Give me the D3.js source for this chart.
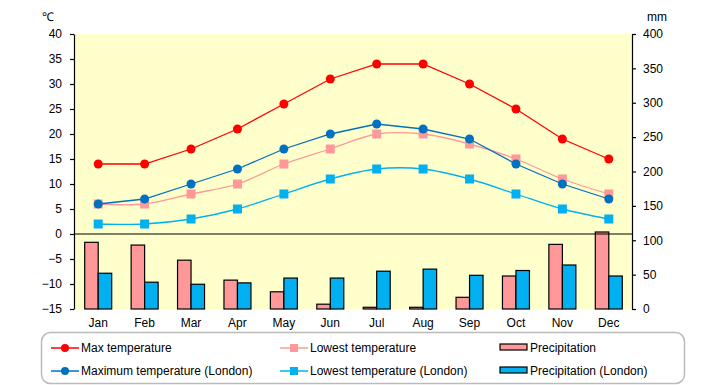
<!DOCTYPE html>
<html>
<head>
<meta charset="utf-8">
<script src="https://cdn.jsdelivr.net/npm/d3@7"></script>
<style>
  body { margin: 0; background: #fff; }
  text { font-family: "Liberation Sans", Arial, sans-serif; font-size: 12px; fill: #000; }
</style>
</head>
<body>
<div id="chart"></div>
<script>
// data
var months = ["Jan", "Feb", "Mar", "Apr", "May", "Jun", "Jul", "Aug", "Sep", "Oct", "Nov", "Dec"];
var maxTemp = [14, 14, 17, 21, 26, 31, 34, 34, 30, 25, 19, 15];
var lowTemp = [6, 6, 8, 10, 14, 17, 20, 20, 18, 15, 11, 8];
var maxTempLondon = [6, 7, 10, 13, 17, 20, 22, 21, 19, 14, 10, 7];
var lowTempLondon = [2, 2, 3, 5, 8, 11, 13, 13, 11, 8, 5, 3];
var precip = [97, 93, 71, 42, 25, 7, 2.5, 2.5, 17, 48, 94, 112];
var precipLondon = [52, 39, 36, 38, 45, 45, 55, 58, 49, 56, 64, 48];
var tempTicks = [40, 35, 30, 25, 20, 15, 10, 5, 0, -5, -10, -15];
var mmTicks = [400, 350, 300, 250, 200, 150, 100, 50, 0];

var svgWidth = 720, svgHeight = 385;
var plot = { left: 74, right: 632, top: 34, bottom: 309 };

var svg = d3.select("#chart").append("svg")
  .attr("width", svgWidth)
  .attr("height", svgHeight);

// scales
var x = d3.scaleBand().domain(months).range([plot.left + 1, plot.right]);
var yT = d3.scaleLinear().domain([-15, 40]).range([plot.bottom, plot.top]);
var yP = d3.scaleLinear().domain([0, 400]).range([plot.bottom, plot.top]);
var cx = d => x(d) + x.bandwidth() / 2;

// background of plot area
svg.append("rect")
  .attr("x", plot.left).attr("y", plot.top)
  .attr("width", plot.right - plot.left).attr("height", plot.bottom - plot.top)
  .attr("fill", "#FFFFCC");

// bars
var barW = 13.5;
svg.append("g").selectAll("rect")
  .data(precip).enter().append("rect")
  .attr("x", (d, i) => cx(months[i]) - barW)
  .attr("y", d => yP(d))
  .attr("width", barW)
  .attr("height", d => yP(0) - yP(d))
  .attr("fill", "#FF9999").attr("stroke", "#000").attr("stroke-width", 1.2);

svg.append("g").selectAll("rect")
  .data(precipLondon).enter().append("rect")
  .attr("x", (d, i) => cx(months[i]))
  .attr("y", d => yP(d))
  .attr("width", barW)
  .attr("height", d => yP(0) - yP(d))
  .attr("fill", "#00B0F0").attr("stroke", "#000").attr("stroke-width", 1.2);

// zero line
svg.append("line")
  .attr("x1", plot.left).attr("x2", plot.right)
  .attr("y1", yT(0)).attr("y2", yT(0))
  .attr("stroke", "#000").attr("stroke-width", 1.2);

// axes
var leftAxis = d3.axisLeft(yT).tickValues(tempTicks).tickSize(4).tickPadding(8).tickSizeOuter(0);
var gl = svg.append("g").attr("transform", `translate(${plot.left},0)`).call(leftAxis);
var rightAxis = d3.axisRight(yP).tickValues(mmTicks).tickSize(4).tickPadding(7).tickSizeOuter(0);
var gr = svg.append("g").attr("transform", `translate(${plot.right},0)`).call(rightAxis);
[gl, gr].forEach(function(g) {
  g.selectAll("path, line").attr("stroke", "#000").attr("stroke-width", 1.2);
  g.selectAll("text").attr("font-size", 12).attr("font-family", "Liberation Sans, Arial, sans-serif");
});
gl.selectAll("text").text(d => d < 0 ? "\u2212" + Math.abs(d) : d);

svg.append("text").attr("x", 42).attr("y", 21).text("\u2103");
svg.append("text").attr("x", 647).attr("y", 21).text("mm");

// month labels
svg.append("g").selectAll("text")
  .data(months).enter().append("text")
  .attr("x", d => cx(d)).attr("y", 327)
  .attr("text-anchor", "middle")
  .text(d => d);

// lines
function drawSeries(values, color, curve, shape) {
  var line = d3.line()
    .x((d, i) => cx(months[i]))
    .y(d => yT(d))
    .curve(curve);
  svg.append("path").datum(values)
    .attr("d", line)
    .attr("fill", "none")
    .attr("stroke", color)
    .attr("stroke-width", 1.3);
  var g = svg.append("g");
  if (shape === "circle") {
    g.selectAll("circle").data(values).enter().append("circle")
      .attr("cx", (d, i) => cx(months[i]))
      .attr("cy", d => yT(d))
      .attr("r", 4.5)
      .attr("fill", color);
  } else {
    g.selectAll("rect").data(values).enter().append("rect")
      .attr("x", (d, i) => cx(months[i]) - 4.5)
      .attr("y", d => yT(d) - 4.5)
      .attr("width", 9).attr("height", 9)
      .attr("fill", color);
  }
}
drawSeries(lowTemp, "#FF9999", d3.curveCatmullRom, "square");
drawSeries(lowTempLondon, "#00B0F0", d3.curveCatmullRom, "square");
drawSeries(maxTempLondon, "#0070C0", d3.curveLinear, "circle");
drawSeries(maxTemp, "#FF0000", d3.curveLinear, "circle");

// legend
var legend = svg.append("g");
legend.append("rect")
  .attr("x", 41.5).attr("y", 332.5).attr("width", 643).attr("height", 51)
  .attr("rx", 9)
  .attr("fill", "#fff").attr("stroke", "#BBBBBB").attr("stroke-width", 1.5);

var legendItems = [
  { label: "Max temperature", color: "#FF0000", kind: "circle", x: 51, y: 348 },
  { label: "Lowest temperature", color: "#FF9999", kind: "square", x: 280, y: 348 },
  { label: "Precipitation", color: "#FF9999", kind: "bar", x: 500, y: 348 },
  { label: "Maximum temperature (London)", color: "#0070C0", kind: "circle", x: 51, y: 371 },
  { label: "Lowest temperature (London)", color: "#00B0F0", kind: "square", x: 280, y: 371 },
  { label: "Precipitation (London)", color: "#00B0F0", kind: "bar", x: 500, y: 371 }
];
legendItems.forEach(function(it) {
  if (it.kind === "bar") {
    legend.append("rect")
      .attr("x", it.x).attr("y", it.y - 4)
      .attr("width", 27).attr("height", 6)
      .attr("fill", it.color).attr("stroke", "#000").attr("stroke-width", 1.2);
  } else {
    legend.append("line")
      .attr("x1", it.x).attr("x2", it.x + 28)
      .attr("y1", it.y).attr("y2", it.y)
      .attr("stroke", it.color).attr("stroke-width", 1.5);
    if (it.kind === "circle") {
      legend.append("circle").attr("cx", it.x + 14).attr("cy", it.y).attr("r", 4).attr("fill", it.color);
    } else {
      legend.append("rect").attr("x", it.x + 10).attr("y", it.y - 4)
        .attr("width", 8).attr("height", 8).attr("fill", it.color);
    }
  }
  legend.append("text")
    .attr("x", it.x + 30).attr("y", it.y + 4)
    .attr("font-size", 11.2)
    .text(it.label);
});
</script>
</body>
</html>
